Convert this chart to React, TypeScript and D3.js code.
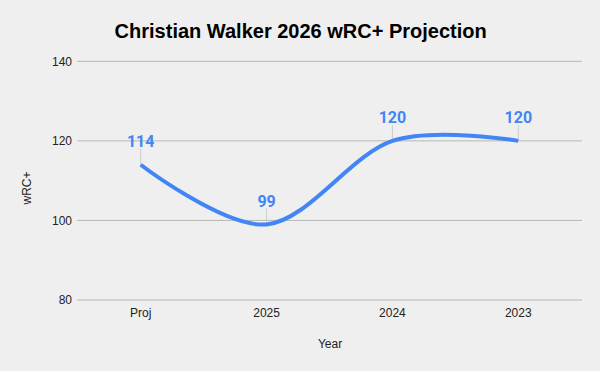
import React from "react";
import * as d3 from "d3";

const categories = ["Proj", "2025", "2024", "2023"];
const values = [114, 99, 120, 120];
const yTicks = [80, 100, 120, 140];
const title = "Christian Walker 2026 wRC+ Projection";
const xTitle = "Year";
const yTitle = "wRC+";

const W = 600;
const H = 371;

export default function App() {
  const x = d3.scalePoint<string>().domain(categories).range([140.7, 518.3]);
  const y = d3.scaleLinear().domain([80, 140]).range([300, 61.3]);
  const line = d3
    .line<number>()
    .x((_, i) => x(categories[i]) as number)
    .y((d) => y(d))
    .curve(d3.curveCardinal.tension(0));
  const path = line(values) || "";
  const font = "Arial, 'Liberation Sans', sans-serif";
  return (
    <svg
      width={W}
      height={H}
      style={{ position: "absolute", left: 0, top: 0, display: "block" }}
    >
      <rect x={0} y={0} width={W} height={H} fill="#efefef" />
      <text
        x={300.7}
        y={38.4}
        textAnchor="middle"
        fontFamily={font}
        fontWeight="bold"
        fontSize={20}
        fill="#000"
      >
        {title}
      </text>
      {yTicks.map((t) => (
        <g key={t}>
          <line x1={77} x2={582} y1={y(t)} y2={y(t)} stroke="#b7b7b7" strokeWidth={1} />
          <text
            x={72}
            y={y(t)}
            dy="0.35em"
            textAnchor="end"
            fontFamily={font}
            fontSize={12}
            fill="#222"
          >
            {t}
          </text>
        </g>
      ))}
      {categories.map((c) => (
        <text
          key={c}
          x={x(c)}
          y={316.5}
          textAnchor="middle"
          fontFamily={font}
          fontSize={12}
          fill="#222"
        >
          {c}
        </text>
      ))}
      <text x={330} y={348.3} textAnchor="middle" fontFamily={font} fontSize={12} fill="#222">
        {xTitle}
      </text>
      <text
        transform={`translate(31,188) rotate(-90)`}
        textAnchor="middle"
        fontFamily={font}
        fontSize={12}
        fill="#222"
      >
        {yTitle}
      </text>
      {values.map((v, i) => (
        <line
          key={"l" + i}
          x1={x(categories[i])}
          x2={x(categories[i])}
          y1={y(v) - 16}
          y2={y(v)}
          stroke="#cccccc"
          strokeWidth={1}
        />
      ))}
      <path d={path} fill="none" stroke="#4285f4" strokeWidth={4} strokeLinejoin="round" />
      {values.map((v, i) => (
        <text
          key={"t" + i}
          x={x(categories[i])}
          y={y(v) - 17.5}
          textAnchor="middle"
          fontFamily="Roboto, sans-serif"
          fontWeight="bold"
          fontSize={16}
          fill="#4285f4"
        >
          {v}
        </text>
      ))}
    </svg>
  );
}
